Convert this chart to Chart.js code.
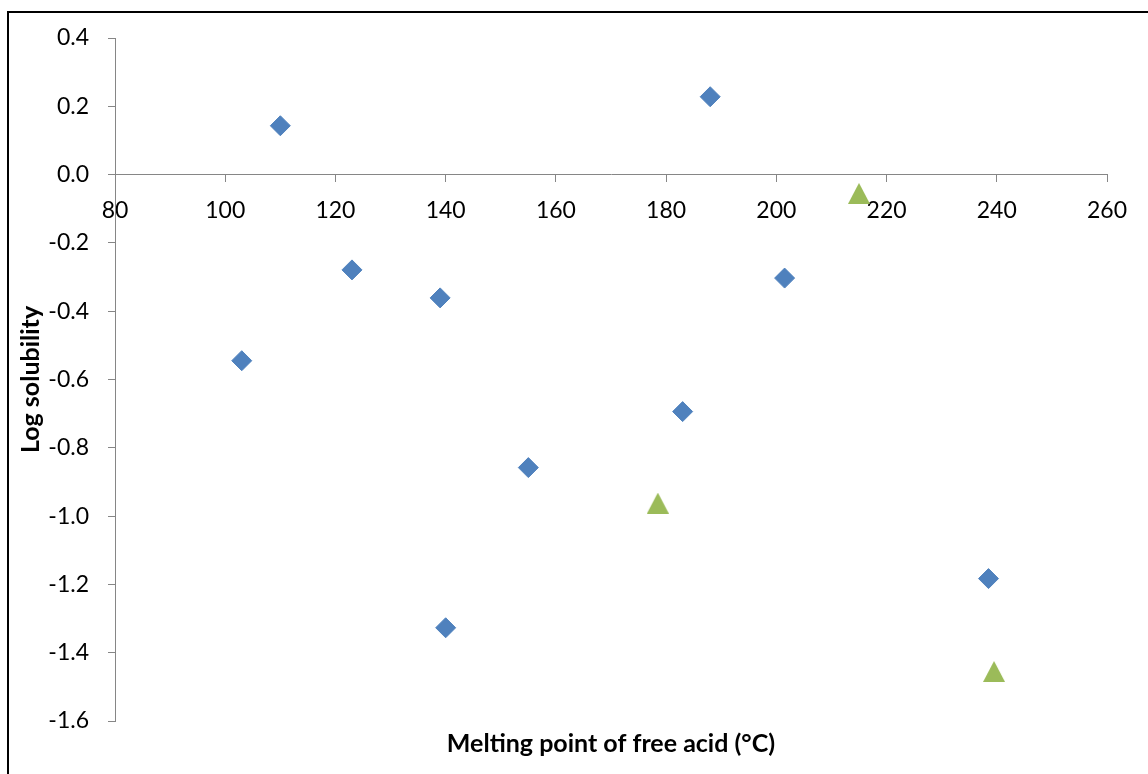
<!DOCTYPE html>
<html>
<head>
<meta charset="utf-8">
<script src="https://cdn.jsdelivr.net/npm/chart.js@4.4.1/dist/chart.umd.min.js"></script>
<style>
    html, body { margin: 0; padding: 0; background: #fff; overflow: hidden; }
    #wrap { position: relative; width: 1148px; height: 774px; }
    #frame { position: absolute; left: 7px; top: 11px; width: 1200px; height: 800px; border: 2px solid #000; box-sizing: border-box; }
    canvas { position: absolute; left: 0; top: 0; }
</style>
</head>
<body>
<div id="wrap">
    <div id="frame"></div>
    <canvas id="chart" width="1148" height="774"></canvas>
</div>
<script>
// Melting point (x) vs log solubility (y)
const diamondX = [110, 188, 123, 139, 201.5, 103, 183, 155, 140, 238.5];
const diamondY = [0.143, 0.228, -0.279, -0.361, -0.303, -0.545, -0.694, -0.858, -1.327, -1.183];
const triangleX = [215, 178.5, 239.5];
const triangleY = [-0.055, -0.962, -1.455];

const xTicks = [80, 100, 120, 140, 160, 180, 200, 220, 240, 260];
const yTicks = [-1.6, -1.4, -1.2, -1.0, -0.8, -0.6, -0.4, -0.2, 0.0, 0.2, 0.4];

const axisGray = '#868686';
const tickFont = { family: 'Lato', size: 23 };
const titleFont = { family: 'Lato', size: 25, weight: 'bold' };

function toPoints(xs, ys) {
    return xs.map((x, i) => ({ x: x, y: ys[i] }));
}

// Excel-like triangle marker (box centred on the value)
function triangleMarker(color) {
    const c = document.createElement('canvas');
    c.width = 22;
    c.height = 21;
    const g = c.getContext('2d');
    g.fillStyle = color;
    g.beginPath();
    g.moveTo(11, 0);
    g.lineTo(22, 21);
    g.lineTo(0, 21);
    g.closePath();
    g.fill();
    return c;
}

const ctx = document.getElementById('chart').getContext('2d');
new Chart(ctx, {
    type: 'scatter',
    data: {
        datasets: [
            {
                label: 'Diamonds',
                data: toPoints(diamondX, diamondY),
                pointStyle: 'rectRot',
                pointRadius: 10,
                backgroundColor: '#4F81BD',
                borderColor: '#4F81BD',
                borderWidth: 1
            },
            {
                label: 'Triangles',
                data: toPoints(triangleX, triangleY),
                pointStyle: triangleMarker('#9BBB59'),
                pointRadius: 11,
                backgroundColor: '#9BBB59',
                borderColor: '#9BBB59'
            }
        ]
    },
    options: {
        responsive: false,
        animation: false,
        layout: { padding: { top: 38, right: 41, left: 0, bottom: 0 } },
        plugins: {
            legend: { display: false },
            tooltip: { enabled: false }
        },
        scales: {
            x: {
                type: 'linear',
                position: { y: 0 },
                min: xTicks[0],
                max: xTicks[xTicks.length - 1],
                afterBuildTicks: axis => { axis.ticks = xTicks.map(v => ({ value: v })); },
                ticks: { font: tickFont, color: '#000', padding: 15, maxRotation: 0 },
                grid: { drawOnChartArea: false, drawTicks: true, tickLength: 7, color: axisGray },
                border: { color: axisGray, width: 1 }
            },
            xTitle: {
                type: 'linear',
                position: 'bottom',
                axis: 'x',
                min: xTicks[0],
                max: xTicks[xTicks.length - 1],
                ticks: { display: false },
                grid: { display: false },
                border: { display: false },
                title: { display: true, text: 'Melting point of free acid (°C)', font: titleFont, color: '#000', padding: { top: 0, bottom: 15 } },
                afterFit: axis => { axis.height = 53; }
            },
            y: {
                type: 'linear',
                position: 'left',
                min: yTicks[0],
                max: yTicks[yTicks.length - 1],
                afterBuildTicks: axis => { axis.ticks = yTicks.map(v => ({ value: v })); },
                ticks: {
                    font: tickFont,
                    color: '#000',
                    padding: 19,
                    callback: v => (Math.round(v * 10) / 10).toFixed(1)
                },
                grid: { drawOnChartArea: false, drawTicks: true, tickLength: 7, color: axisGray },
                border: { color: axisGray, width: 1 },
                title: { display: true, text: 'Log solubility', font: titleFont, color: '#000', padding: { top: 16, bottom: 0 } },
                afterFit: axis => { axis.width = 115; }
            }
        }
    }
});
</script>
</body>
</html>
